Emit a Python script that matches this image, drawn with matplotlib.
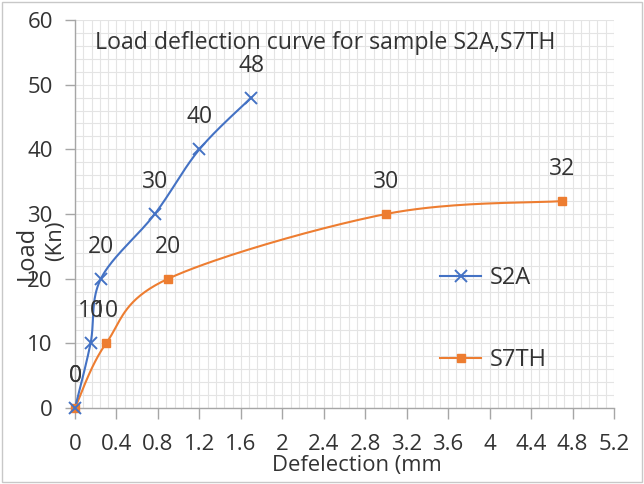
import numpy as np
import matplotlib
matplotlib.use("Agg")
import matplotlib.pyplot as plt
from matplotlib.patches import Rectangle
from matplotlib.ticker import MultipleLocator

plt.rcParams['font.family'] = ['Open Sans', 'DejaVu Sans']

# Load-deflection readings
s2a_defl = [0.0, 0.15, 0.25, 0.77, 1.2, 1.7]
s2a_load = [0, 10, 20, 30, 40, 48]
s7th_defl = [0.0, 0.3, 0.9, 3.0, 4.7]
s7th_load = [0, 10, 20, 30, 32]

x_ticks = [0, 0.4, 0.8, 1.2, 1.6, 2, 2.4, 2.8, 3.2, 3.6, 4, 4.4, 4.8, 5.2]
x_tick_labels = ["0", "0.4", "0.8", "1.2", "1.6", "2", "2.4", "2.8", "3.2",
                 "3.6", "4", "4.4", "4.8", "5.2"]
y_ticks = [0, 10, 20, 30, 40, 50, 60]

BLUE = "#4472C4"
ORANGE = "#ED7D31"
TEXT = "#333333"

W, H = 644, 484
fig = plt.figure(figsize=(W / 100, H / 100), dpi=100)
L, R, T, B = 75, 614, 20, 408
ax = fig.add_axes([L / W, (H - B) / H, (R - L) / W, (B - T) / H])
ax.set_xlim(0, 5.2)
ax.set_ylim(0, 60)


def smooth(xs, ys, sx, sy, n=40):
    """Excel-style smoothed line: cubic Bezier segments with Catmull-Rom tangents."""
    p = np.column_stack([np.asarray(xs) * sx, np.asarray(ys) * sy])
    ext = np.vstack([p[0], p, p[-1]])
    out = []
    t = np.linspace(0, 1, n)[:, None]
    for i in range(len(p) - 1):
        p0 = ext[i + 1]
        p3 = ext[i + 2]
        c1 = p0 + (ext[i + 2] - ext[i]) / 6
        c2 = p3 - (ext[i + 3] - ext[i + 1]) / 6
        seg = ((1 - t) ** 3) * p0 + 3 * ((1 - t) ** 2) * t * c1 + 3 * (1 - t) * t ** 2 * c2 + t ** 3 * p3
        out.append(seg if i == 0 else seg[1:])
    out = np.vstack(out)
    return out[:, 0] / sx, out[:, 1] / sy


sx = (R - L) / 5.2
sy = (B - T) / 60.0

bx, by = smooth(s2a_defl, s2a_load, sx, sy)
ox, oy = smooth(s7th_defl, s7th_load, sx, sy)

ax.plot(ox, oy, color=ORANGE, lw=1.5, zorder=3, clip_on=False)
ax.plot(bx, by, color=BLUE, lw=1.5, zorder=3, clip_on=False)
ax.plot(s7th_defl, s7th_load, ls='none', marker='s', ms=6, color=ORANGE,
        zorder=4, clip_on=False)
ax.plot(s2a_defl, s2a_load, ls='none', marker='x', ms=8, mew=1.4, color=BLUE,
        zorder=4, clip_on=False)

# legend handles
h1, = ax.plot([], [], color=BLUE, lw=1.5, marker='x', ms=8, mew=1.4, label="S2A")
h2, = ax.plot([], [], color=ORANGE, lw=1.5, marker='s', ms=6, label="S7TH")
leg = ax.legend(handles=[h1, h2], loc='upper left',
                bbox_to_anchor=((440 - L) / (R - L), (B - 266) / (B - T)),
                frameon=False, fontsize=17, labelcolor=TEXT, handlelength=1.75,
                handletextpad=0.35, labelspacing=2.45, borderpad=0, borderaxespad=0)

# data labels above each point
for xs, ys in ((s7th_defl, s7th_load), (s2a_defl, s2a_load)):
    for x, y in zip(xs, ys):
        ax.annotate(f"{y}", (x, y), xytext=(0, 32), textcoords='offset pixels',
                    ha='center', va='center', fontsize=16.5, color=TEXT,
                    annotation_clip=False, zorder=5)

# grid
ax.xaxis.set_minor_locator(MultipleLocator(0.08))
ax.yaxis.set_minor_locator(MultipleLocator(2))
ax.grid(which='both', color='#E4E4E4', lw=0.8, zorder=0)
ax.set_axisbelow(True)

ax.set_xticks(x_ticks)
ax.set_xticklabels(x_tick_labels)
ax.set_yticks(y_ticks)
ax.tick_params(axis='x', which='major', direction='out', length=8, width=1,
               color='#A6A6A6', labelsize=16, labelcolor=TEXT, pad=11)
ax.tick_params(axis='y', which='major', direction='out', length=7, width=1,
               color='#A6A6A6', labelsize=16, labelcolor=TEXT, pad=9)
ax.tick_params(which='minor', length=0)

for side in ('top', 'right'):
    ax.spines[side].set_visible(False)
for side in ('left', 'bottom'):
    ax.spines[side].set_color('#A6A6A6')
    ax.spines[side].set_linewidth(1)

ax.text(95 / W, (H - 43) / H, "Load deflection curve for sample S2A,S7TH",
        transform=fig.transFigure, ha='left', va='center', fontsize=16.7,
        color=TEXT)

fig.text(27 / W, (H - 253) / H, "Load", rotation=90, ha='center',
         va='center', fontsize=17, color=TEXT)
fig.text(56 / W, (H - 241) / H, "(Kn)", rotation=90, ha='center',
         va='center', fontsize=16, color=TEXT)
fig.text(272 / W, (H - 466) / H, "Defelection (mm", ha='left',
         va='center', fontsize=15.8, color=TEXT)

fig.patches.append(Rectangle((2 / W, 2 / H), (W - 4) / W, (H - 4) / H,
                             transform=fig.transFigure, fill=False,
                             edgecolor='#C8C8C8', lw=1))

fig.savefig("out.png", dpi=100)
